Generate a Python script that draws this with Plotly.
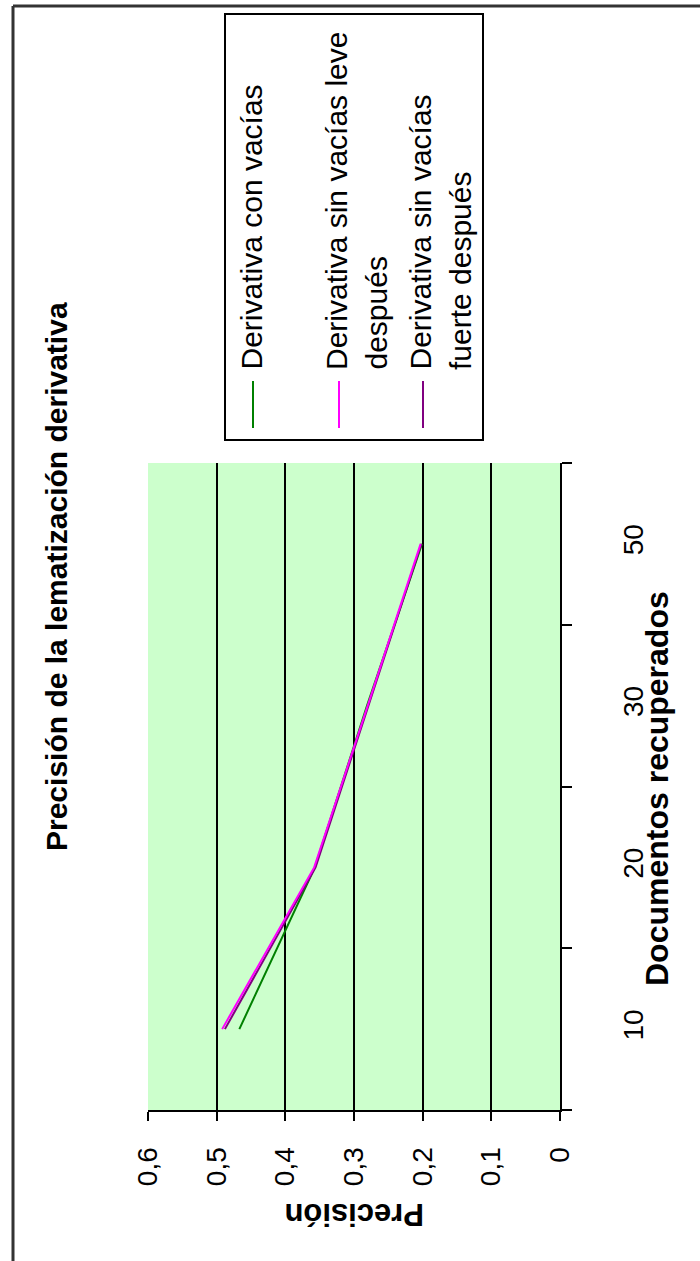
import plotly.graph_objects as go

# Documents retrieved (category axis) and precision per series
docs = ["10", "20", "30", "50"]
series_names = [
    "Derivativa con vacías",
    "Derivativa sin vacías leve después",
    "Derivativa sin vacías fuerte después",
]
con_vacias = [0.467, 0.357, 0.281, 0.201]
sin_vacias_leve = [0.492, 0.358, 0.280, 0.203]
sin_vacias_fuerte = [0.488, 0.356, 0.279, 0.202]
precision_ticks = [0, 0.1, 0.2, 0.3, 0.4, 0.5, 0.6]
legend_lines = [
    ["Derivativa con vacías"],
    ["Derivativa sin vacías leve", "después"],
    ["Derivativa sin vacías", "fuerte después"],
]
colors = ["#008000", "#FF00FF", "#800080"]

W, H = 700, 1261
L, R, T, B = 148, 560, 463, 1110  # plot box in pixels


def px(x):
    return (x - L) / (R - L)


def py(y):
    return (B - y) / (B - T)


FONT = "Arial, Liberation Sans, sans-serif"

fig = go.Figure()
series = [con_vacias, sin_vacias_leve, sin_vacias_fuerte]
# magenta series drawn last so it sits on top where the lines overlap
draw_order = [0, 2, 1]
for i in draw_order:
    fig.add_trace(go.Scatter(
        x=series[i], y=docs, mode="lines", name=series_names[i],
        line=dict(color=colors[i], width=2), showlegend=False,
    ))

shapes = []
annotations = []

# outer chart frame (top and left edges)
shapes.append(dict(type="line", xref="paper", yref="paper",
                   x0=px(13), x1=px(W + 5), y0=py(6), y1=py(6),
                   line=dict(color="#333333", width=3)))
shapes.append(dict(type="line", xref="paper", yref="paper",
                   x0=px(13), x1=px(13), y0=py(6), y1=py(H + 5),
                   line=dict(color="#333333", width=3)))

# legend box
shapes.append(dict(type="rect", xref="paper", yref="paper",
                   x0=px(225), x1=px(483), y0=py(14), y1=py(440),
                   line=dict(color="black", width=2), fillcolor="white"))

sample_x = [253, 339, 423]
text_x = [[251], [336, 376], [420, 460]]
for col, sx, lines, txs in zip(colors, sample_x, legend_lines, text_x):
    shapes.append(dict(type="line", xref="paper", yref="paper",
                       x0=px(sx), x1=px(sx), y0=py(381), y1=py(428),
                       line=dict(color=col, width=2)))
    for line_text, tx in zip(lines, txs):
        annotations.append(dict(
            text=line_text, xref="paper", yref="paper",
            x=px(tx), y=py(372), xanchor="center", yanchor="bottom",
            textangle=-90, showarrow=False,
            font=dict(family=FONT, size=30, color="black"),
        ))

# chart title
annotations.append(dict(
    text="<b>Precisión de la lematización derivativa</b>",
    xref="paper", yref="paper", x=px(56), y=py(577),
    xanchor="center", yanchor="middle", textangle=-90, showarrow=False,
    font=dict(family=FONT, size=30, color="black"),
))
# category axis title
annotations.append(dict(
    text="<b>Documentos recuperados</b>",
    xref="paper", yref="paper", x=px(657), y=py(789),
    xanchor="center", yanchor="middle", textangle=-90, showarrow=False,
    font=dict(family=FONT, size=32, color="black"),
))
# value axis title
annotations.append(dict(
    text="<b>Precisión</b>",
    xref="paper", yref="paper", x=0.5, y=py(1215),
    xanchor="center", yanchor="middle", textangle=180, showarrow=False,
    font=dict(family=FONT, size=31, color="black"),
))

fig.update_layout(
    width=W, height=H,
    margin=dict(l=L, r=W - R, t=T, b=H - B, autoexpand=False),
    paper_bgcolor="white",
    plot_bgcolor="#CCFFCC",
    separators=",.",
    shapes=shapes,
    annotations=annotations,
    xaxis=dict(
        range=[0.6, 0], tickvals=precision_ticks,
        showgrid=True, gridcolor="black", gridwidth=2,
        zeroline=False, showline=True, linecolor="black", linewidth=2,
        ticks="outside", ticklen=9, tickwidth=2, tickcolor="black",
        tickangle=-90, ticklabelstandoff=15,
        tickfont=dict(family=FONT, size=28, color="black"),
    ),
    yaxis=dict(
        type="category", categoryorder="array", categoryarray=docs,
        range=[-0.5, 3.5], side="right", tickson="boundaries",
        showgrid=False, zeroline=False,
        showline=True, linecolor="black", linewidth=2,
        ticks="outside", ticklen=10, tickwidth=2, tickcolor="black",
        tickangle=-90, ticklabelstandoff=47,
        tickfont=dict(family=FONT, size=28, color="black"),
    ),
)

fig.write_html("out.html")
